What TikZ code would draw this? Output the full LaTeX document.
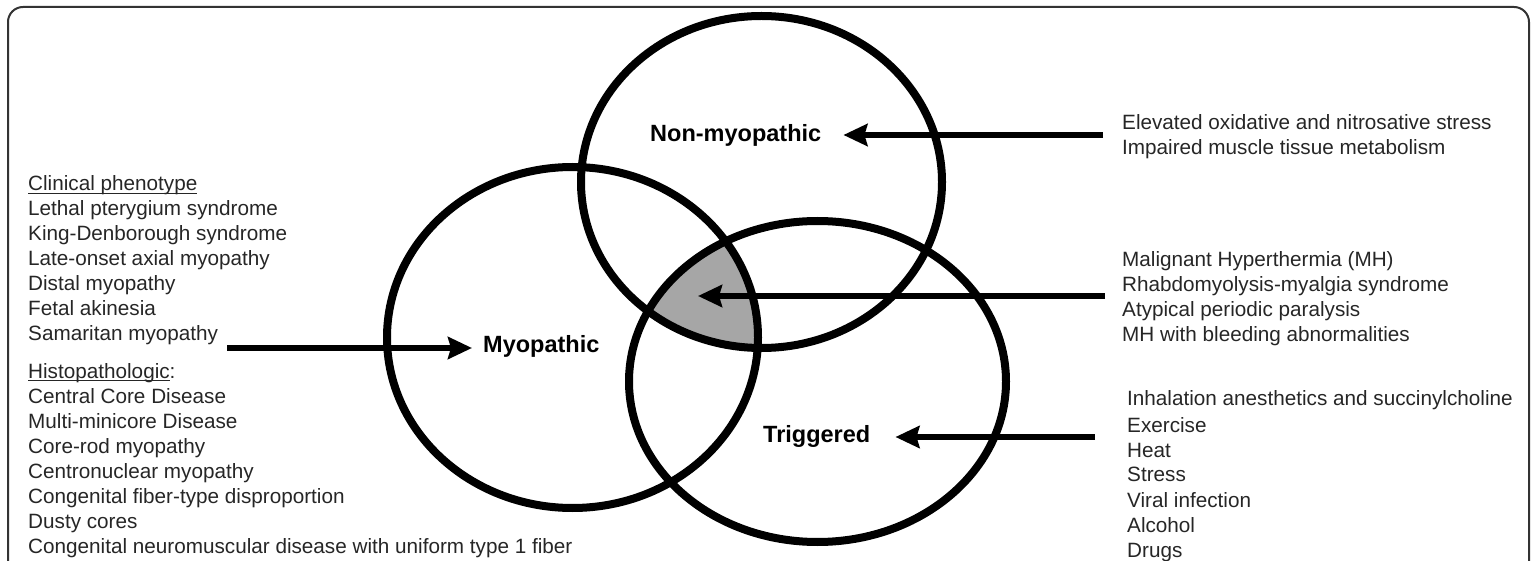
\documentclass[tikz,border=0pt]{standalone}
\usepackage{fontspec}
\setmainfont{Liberation Sans}
\usetikzlibrary{arrows.meta}
\definecolor{txt}{HTML}{262626}
\definecolor{framegray}{HTML}{333333}
\definecolor{coregray}{HTML}{A6A6A6}
% underline a word with a rule that runs through the descenders
\newcommand\ulin[1]{\setbox0\hbox{#1}\rlap{\rule[-3pt]{\wd0}{1.4pt}}\box0}
\begin{document}
\begin{tikzpicture}[x=1pt,y=-1pt,
  item/.style={anchor=base west, inner sep=0pt, text=txt, font=\fontsize{20.7}{25}\selectfont},
  setlabel/.style={anchor=base west, inner sep=0pt, text=black, font=\fontsize{23.5}{28}\selectfont\bfseries},
  ring/.style={draw=black, line width=8pt},
  arr/.style={draw=black, line width=6pt, -{Stealth[length=24pt,width=22pt,inset=3pt]}}]

\useasboundingbox (0,0) rectangle (1532,561);

% frame
\draw[framegray, line width=2pt, rounded corners=15pt] (8,590) -- (8,7) -- (1529,7) -- (1529,590);

% centres of the three sets
\coordinate (cN) at (761.5,182);
\coordinate (cM) at (572.5,337.5);
\coordinate (cT) at (817.5,381.5);

% common core of all three sets
\begin{scope}
  \clip (cN) ellipse [x radius=180.5pt, y radius=166pt];
  \clip (cM) ellipse [x radius=185.5pt, y radius=170.5pt];
  \fill[coregray] (cT) ellipse [x radius=188.5pt, y radius=160.5pt];
\end{scope}

\draw[ring] (cN) ellipse [x radius=180.5pt, y radius=166pt];
\draw[ring] (cM) ellipse [x radius=185.5pt, y radius=170.5pt];
\draw[ring] (cT) ellipse [x radius=188.5pt, y radius=160.5pt];

% set labels
\node[setlabel] (nonmyo) at (650,142) {Non-myopathic};
\node[setlabel] (myo) at (483,353) {Myopathic};
\node[setlabel] (trig) at (763,442) {Triggered};

% left column
\node[item] (l1) at (28,191) {\ulin{Clinical phenotype}};
\node[item] (l2) at (28,216) {Lethal pterygium syndrome};
\node[item] (l3) at (28,241) {King-Denborough syndrome};
\node[item] (l4) at (28,266) {Late-onset axial myopathy};
\node[item] (l5) at (28,291) {Distal myopathy};
\node[item] (l6) at (28,316) {Fetal akinesia};
\node[item] (l7) at (28,341) {Samaritan myopathy};
\node[item] (l8) at (28,378) {\ulin{Histopathologic}:};
\node[item] (l9) at (28,403) {Central Core Disease};
\node[item] (l10) at (28,428) {Multi-minicore Disease};
\node[item] (l11) at (28,453) {Core-rod myopathy};
\node[item] (l12) at (28,478) {Centronuclear myopathy};
\node[item] (l13) at (28,503) {Congenital fiber-type disproportion};
\node[item] (l14) at (28,528) {Dusty cores};
\node[item] (l15) at (28,553) {Congenital neuromuscular disease with uniform type 1 fiber};

% right column, upper group
\node[item] (r1) at (1122,130) {Elevated oxidative and nitrosative stress};
\node[item] (r2) at (1122,155) {Impaired muscle tissue metabolism};

% right column, middle group
\node[item] (r3) at (1122,267) {Malignant Hyperthermia (MH)};
\node[item] (r4) at (1122,292) {Rhabdomyolysis-myalgia syndrome};
\node[item] (r5) at (1122,317) {Atypical periodic paralysis};
\node[item] (r6) at (1122,342) {MH with bleeding abnormalities};

% right column, lower group
\node[item] (r7) at (1127,406) {Inhalation anesthetics and succinylcholine};
\node[item] (r8) at (1127,432) {Exercise};
\node[item] (r9) at (1127,457) {Heat};
\node[item] (r10) at (1127,481) {Stress};
\node[item] (r11) at (1127,507) {Viral infection};
\node[item] (r12) at (1127,532) {Alcohol};
\node[item] (r13) at (1127,557) {Drugs};

% arrows
\coordinate (tN) at (1103,135);
\coordinate (tM) at (227,348);
\coordinate (tC) at (1105,296);
\coordinate (tT) at (1095,437);
\coordinate (core) at (698,296);

\draw[arr] (tN) -- ([xshift=22pt]nonmyo.east |- tN);
\draw[arr] (tM) -- ([xshift=-11pt]myo.west |- tM);
\draw[arr] (tC) -- (core);
\draw[arr] (tT) -- ([xshift=25pt]trig.east |- tT);

\end{tikzpicture}
\end{document}
